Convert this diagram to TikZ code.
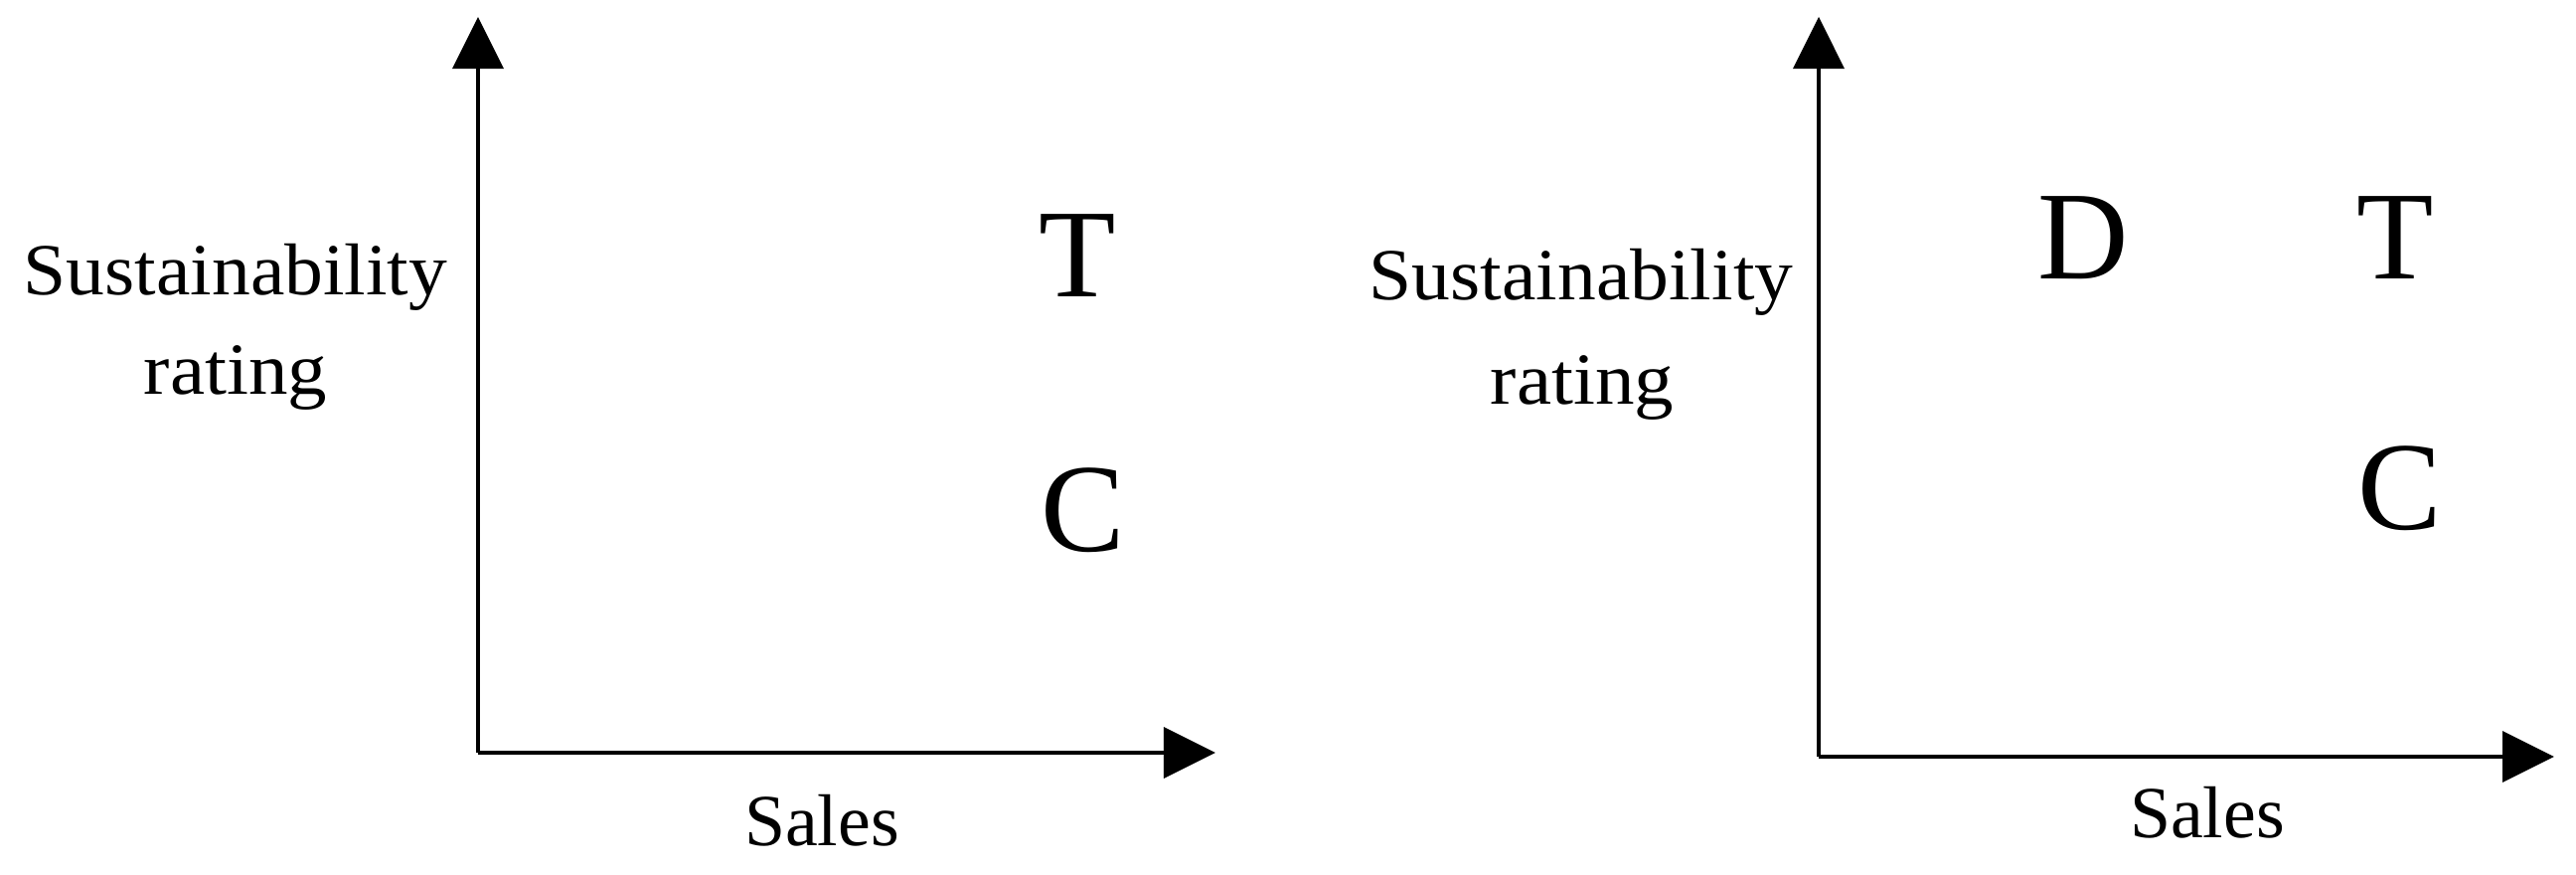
\documentclass[tikz,border=0pt]{standalone}
\usepackage{fontspec}
\setmainfont{Liberation Serif}
\usetikzlibrary{arrows.meta}
\begin{document}
\begin{tikzpicture}[x=0.01cm,y=-0.01cm,
  axis/.style={line width=1pt,-{Triangle[length=0.52cm,width=0.51cm]}},
  lab/.style={anchor=base,inner sep=0pt,font=\fontsize{21}{24}\selectfont},
  big/.style={anchor=base,inner sep=0pt,font=\fontsize{36}{40}\selectfont}]
\useasboundingbox (0,0) rectangle (2592,880);
% left chart
\coordinate (o1) at (481,757);
\coordinate (y1) at (481,17);
\coordinate (x1) at (1223,757);
\draw[axis] (o1) -- (y1);
\draw[axis] (o1) -- (x1);
\node[lab] (s1) at (237,297) {\scalebox{1.05}[1]{Sustainability}};
\node[lab] (r1) at (237,397) {\scalebox{1.07}[1]{rating}};
\node[lab] (sa1) at (827,850) {Sales};
\node[big] (t1) at (1084,299) {T};
\node[big] (c1) at (1090,555) {C};
% right chart
\coordinate (o2) at (1830,761);
\coordinate (y2) at (1830,17);
\coordinate (x2) at (2570,761);
\draw[axis] (o2) -- (y2);
\draw[axis] (o2) -- (x2);
\node[lab] (s2) at (1591,302) {\scalebox{1.05}[1]{Sustainability}};
\node[lab] (r2) at (1592,407) {\scalebox{1.07}[1]{rating}};
\node[lab] (sa2) at (2221,842) {Sales};
\node[big] (d2) at (2096,281) {D};
\node[big] (t2) at (2410,281) {T};
\node[big] (c2) at (2415,533) {C};
\end{tikzpicture}
\end{document}
